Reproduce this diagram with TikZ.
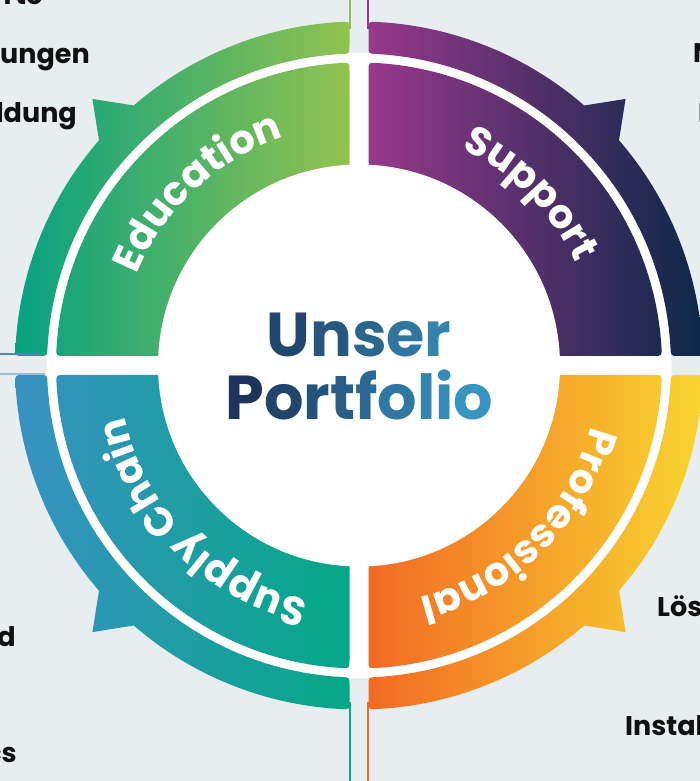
\documentclass[tikz,border=0pt]{standalone}
\usepackage{fontspec}
\setmainfont{Poppins}
\usetikzlibrary{decorations.text}
\definecolor{bg}{HTML}{E8EDF0}
\definecolor{edL}{HTML}{07A182}
\definecolor{edR}{HTML}{92C24E}
\definecolor{suL}{HTML}{98388C}
\definecolor{suR}{HTML}{0C2848}
\definecolor{prL}{HTML}{F26A24}
\definecolor{prR}{HTML}{F8D630}
\definecolor{scL}{HTML}{3892C2}
\definecolor{scR}{HTML}{05A886}
\definecolor{pfL}{HTML}{1B2D52}
\definecolor{pfR}{HTML}{3A9BC8}
\definecolor{lnA}{HTML}{3D8DC4}
\definecolor{lnB}{HTML}{9DBDD3}
\definecolor{lbl}{HTML}{111111}
% outer band segment: sx sy base dir
\newcommand\outerseg[4]{({(#1)*9.5},{(#2)*335.869}) .. controls ({(#1)*9.5},{(#2)*343.869}) .. ({#3+(#4)*87.085}:344)
 arc[start angle={#3+(#4)*87.085}, end angle={#3+(#4)*49.1}, radius=344]
 -- ({#3+(#4)*45}:377) -- ({#3+(#4)*40.9}:344)
 arc[start angle={#3+(#4)*40.9}, end angle={#3+(#4)*2.915}, radius=344]
 .. controls ({(#1)*343.869},{(#2)*9.5}) .. ({(#1)*335.869},{(#2)*9.5})
 -- ({(#1)*319.855},{(#2)*9.5}) .. controls ({(#1)*311.855},{(#2)*9.5}) .. ({#3+(#4)*3.214}:312)
 arc[start angle={#3+(#4)*3.214}, end angle={#3+(#4)*86.786}, radius=312]
 .. controls ({(#1)*9.5},{(#2)*311.855}) .. ({(#1)*9.5},{(#2)*319.855}) -- cycle}
% inner band segment
\newcommand\innerseg[4]{({(#1)*9.5},{(#2)*190}) -- ({(#1)*9.5},{(#2)*294.851}) .. controls ({(#1)*9.5},{(#2)*302.851}) .. ({#3+(#4)*86.690}:303)
 arc[start angle={#3+(#4)*86.690}, end angle={#3+(#4)*3.310}, radius=303]
 .. controls ({(#1)*302.851},{(#2)*9.5}) .. ({(#1)*294.851},{(#2)*9.5}) -- ({(#1)*190},{(#2)*9.5}) -- cycle}
\newcommand\ringfont{\bfseries\fontsize{40}{40}\selectfont}
\newcommand\gl[2]{{\color{pfR!#1!pfL}#2}}
\tikzset{
 lbl/.style={font=\bfseries\fontsize{27}{27}\selectfont, text=lbl, inner sep=0pt},
 ringtext/.style={decorate, decoration={text along path, text align=center, text color=white, text={|\ringfont|#1}}},
 title/.style={font=\bfseries\fontsize{62}{62}\selectfont, inner sep=0pt, anchor=base},
 conn/.style={line width=1.8pt}
}
\begin{document}
\begin{tikzpicture}[x=1pt,y=1pt]
\useasboundingbox (-359,-415.5) rectangle (341,365.5);
\clip (-359,-415.5) rectangle (341,365.5);
\fill[bg] (-359,-415.5) rectangle (341,365.5);
\fill[white] (0,0) circle[radius=312.5];
% quadrants
\shade[left color=edL, right color=edR] \outerseg{-1}{1}{180}{-1} \innerseg{-1}{1}{180}{-1};
\shade[left color=suL, right color=suR] \outerseg{1}{1}{0}{1} \innerseg{1}{1}{0}{1};
\shade[left color=scL, right color=scR] \outerseg{-1}{-1}{180}{1} \innerseg{-1}{-1}{180}{1};
\shade[left color=prL, right color=prR] \outerseg{1}{-1}{0}{-1} \innerseg{1}{-1}{0}{-1};
% hub
\node[circle, fill=white, minimum size=402pt, inner sep=0pt] (hub) at (0,0) {};
\node[title] (unser) at (0,8.5) {\gl{23}{U}\gl{37}{n}\gl{52}{s}\gl{66}{e}\gl{79}{r}};
\node[title] (portfolio) at (0.5,-54.5) {\gl{7}{P}\gl{22}{o}\gl{35}{r}\gl{44}{t}\gl{54}{f}\gl{68}{o}\gl{79}{l}\gl{86}{i}\gl{95}{o}};
% ring labels
\path[ringtext=Education] (178:240) arc[start angle=178, end angle=88, radius=240];
\path[ringtext=Support] (90:240) arc[start angle=90, end angle=0, radius=240];
\path[ringtext=Professional] (0:240) arc[start angle=0, end angle=-90, radius=240];
\path[ringtext=Supply Chain] (270:240) arc[start angle=270, end angle=180, radius=240];
% connectors
\coordinate (gTa) at (-9,366); \coordinate (gTb) at (-9,336);
\coordinate (mTa) at (9,366); \coordinate (mTb) at (9,336);
\coordinate (tBa) at (-9,-416); \coordinate (tBb) at (-9,-336);
\coordinate (oBa) at (9,-416); \coordinate (oBb) at (9,-336);
\coordinate (lAa) at (-360,11.2); \coordinate (lAb) at (-319,11.2);
\coordinate (lBa) at (-360,-8.5); \coordinate (lBb) at (-314,-8.5);
\draw[conn, edR] (gTa) -- (gTb);
\draw[conn, suL] (mTa) -- (mTb);
\draw[conn, scR] (tBa) -- (tBb);
\draw[conn, prL] (oBa) -- (oBb);
\draw[conn, lnA] (lAa) -- (lAb);
\draw[conn, lnB] (lBa) -- (lBb);
% cut-off side labels
\node[lbl, anchor=base east] (l1) at (-316,360.5) {rte};
\node[lbl, anchor=base east] (l2) at (-269,301.5) {ungen};
\node[lbl, anchor=base east] (l3) at (-282,242.5) {ldung};
\node[lbl, anchor=base east] (l4) at (-343,-280.5) {d};
\node[lbl, anchor=base east] (l5) at (-342,-396.5) {cs};
\node[lbl, anchor=base west] (r1) at (334,302.5) {N};
\node[lbl, anchor=base west] (r2) at (339,242.5) {I};
\node[lbl, anchor=base west] (r3) at (298,-250.5) {Lös};
\node[lbl, anchor=base west] (r4) at (266,-369.5) {Instal};
\end{tikzpicture}
\end{document}
